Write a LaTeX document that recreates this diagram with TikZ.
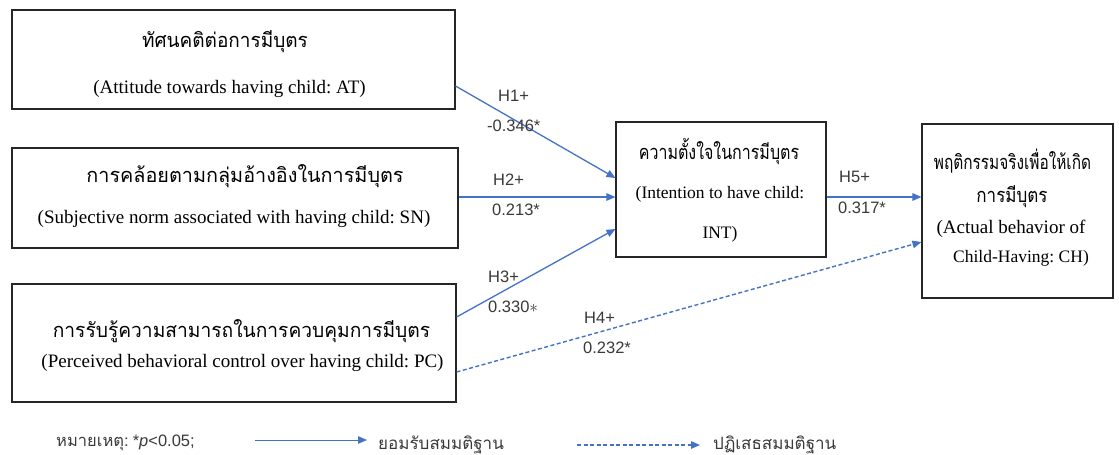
\documentclass[tikz,border=0pt]{standalone}
\usepackage{fontspec}
\setmainfont{Liberation Serif}
\newfontfamily\thaifont[Script=Thai]{Loma}
\newfontfamily\labelfont{Liberation Sans}
\usetikzlibrary{arrows.meta}
\frenchspacing

\definecolor{linkblue}{HTML}{4472C4}
\definecolor{boxline}{HTML}{262626}
\definecolor{labelgray}{HTML}{3A3A3A}

\tikzset{
  varbox/.style={draw=boxline, line width=1.1pt, rectangle, inner sep=0pt},
  thaihead/.style={font={\thaifont\fontsize{20}{22}\selectfont\addfontfeatures{FakeStretch=#1}}, inner sep=0pt, anchor=base},
  thaihead/.default=1,
  engbig/.style={font=\fontsize{19}{21}\selectfont, inner sep=0pt, anchor=base},
  engmid/.style={font=\fontsize{17.5}{20}\selectfont, inner sep=0pt, anchor=base},
  pathlabel/.style={font=\labelfont\fontsize{16.5}{18}\selectfont, text=labelgray, inner sep=0pt, anchor=base west},
  legendtext/.style={font=\fontsize{16.5}{18}\selectfont, text=labelgray, inner sep=0pt, anchor=base west},
  legendthai/.style={font=\thaifont\fontsize{17}{19}\selectfont, text=labelgray, inner sep=0pt, anchor=base west},
  link/.style={draw=linkblue, line width=1.3pt, -{Triangle[length=9pt,width=7.5pt]}},
  linkdashed/.style={link, line width=1.4pt, dash pattern=on 4pt off 2.5pt},
}

\begin{document}
\begin{tikzpicture}[x=1pt,y=-1pt]
\useasboundingbox (0,0) rectangle (1119,455);
\fill[white] (0,0) rectangle (1119,455);

% construct boxes
\node[varbox, minimum width=443pt, minimum height=99pt]  (AT)  at (233.5,59.5) {};
\node[varbox, minimum width=446pt, minimum height=100pt] (SN)  at (235,198) {};
\node[varbox, minimum width=444pt, minimum height=118pt] (PC)  at (234,343) {};
\node[varbox, minimum width=210pt, minimum height=135pt] (INT) at (721,189.5) {};
\node[varbox, minimum width=191pt, minimum height=174pt] (CH)  at (1017.5,211) {};

% box contents
\node[thaihead=0.95] (ATth) at (225,47) {ทัศนคติต่อการมีบุตร};
\node[engbig]   (ATen) at (229.5,93) {(Attitude towards having child: AT)};
\node[thaihead=0.99] (SNth) at (245,182) {การคล้อยตามกลุ่มอ้างอิงในการมีบุตร};
\node[engbig]   (SNen) at (234,223) {(Subjective norm associated with having child: SN)};
\node[thaihead=0.96] (PCth) at (241.5,337) {การรับรู้ความสามารถในการควบคุมการมีบุตร};
\node[engbig]   (PCen) at (242.5,367) {(Perceived behavioral control over having child: PC)};
\node[thaihead=0.8] (INTth) at (719,159) {ความตั้งใจในการมีบุตร};
\node[engmid]   (INTen) at (720,198) {(Intention to have child:};
\node[engmid]   (INTen2) at (720,238) {INT)};
\node[thaihead=0.77] (CHth) at (1012.5,169) {พฤติกรรมจริงเพื่อให้เกิด};
\node[thaihead=0.85] (CHth2) at (1012,202) {การมีบุตร};
\node[engbig]   (CHen) at (1011,233) {(Actual behavior of};
\node[engbig, font=\fontsize{17.5}{20}\selectfont] (CHen2) at (1021,262) {Child-Having: CH)};

% hypothesised paths
\draw[link] ([yshift=-26.5pt]AT.east) -- ([yshift=11.5pt]INT.west);
\draw[link] ([yshift=1pt]SN.east) -- ([yshift=-7.5pt]INT.west);
\draw[link] ([yshift=26pt]PC.east) -- ([yshift=-39.5pt]INT.west);
\draw[linkdashed] ([yshift=-29pt]PC.east) -- ([yshift=-31pt]CH.west);
\draw[link] ([yshift=-7.5pt]INT.east) -- ([yshift=14pt]CH.west);

% path labels
\node[pathlabel] (h1)  at (498,101) {H1+};
\node[pathlabel] (c1)  at (487,131) {-0.346*};
\node[pathlabel] (h2)  at (493,185) {H2+};
\node[pathlabel] (c2)  at (492,215) {0.213*};
\node[pathlabel] (h3)  at (488,282) {H3+};
\node[pathlabel] (c3)  at (488,312) {0.330$\ast$};
\node[pathlabel] (h4)  at (584,323) {H4+};
\node[pathlabel] (c4)  at (583,353) {0.232*};
\node[pathlabel] (h5)  at (839,182) {H5+};
\node[pathlabel] (c5)  at (838,213) {0.317*};

% legend
\node[legendtext] (note) at (56,446) {{\thaifont หมายเหตุ:} {\labelfont *\textit{p}<0.05;}};
\coordinate (solidfrom) at (255,440);
\coordinate (solidto) at (367,440);
\draw[link, line width=1pt] (solidfrom) -- (solidto);
\node[legendthai] (accept) at (378,449) {ยอมรับสมมติฐาน};
\coordinate (dashfrom) at (577,445);
\coordinate (dashto) at (700,445);
\draw[linkdashed, line width=1.1pt] (dashfrom) -- (dashto);
\node[legendthai] (reject) at (713,449) {ปฏิเสธสมมติฐาน};
\end{tikzpicture}
\end{document}
